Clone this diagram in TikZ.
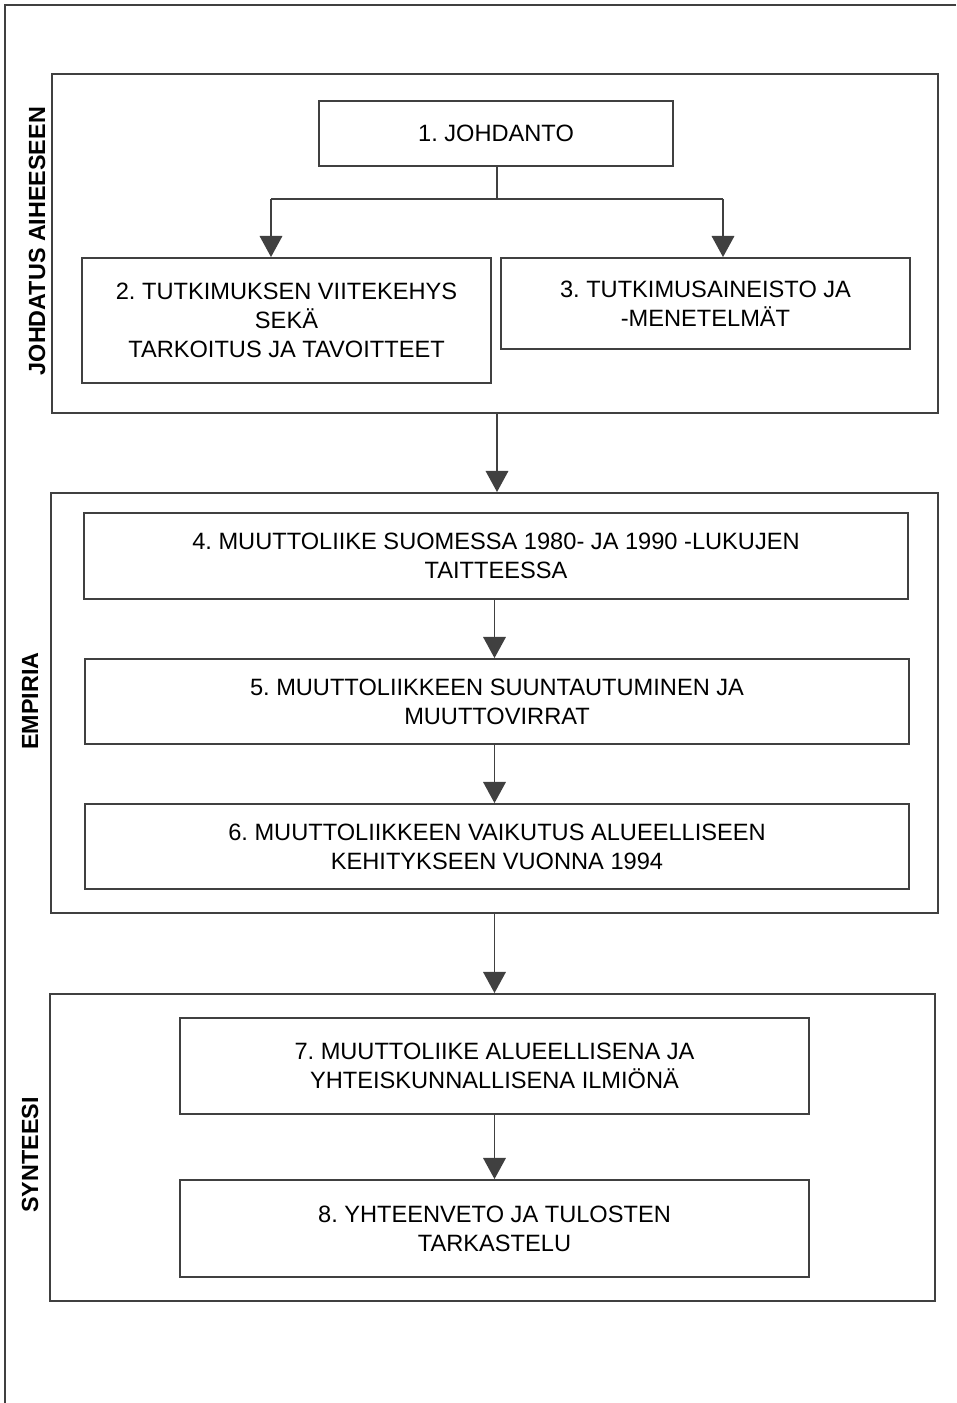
\documentclass[tikz,border=0pt]{standalone}
\usepackage{fontspec}
\setmainfont{Liberation Sans}
\usetikzlibrary{arrows.meta}
\definecolor{linegray}{gray}{0.25}
\frenchspacing
\tikzset{
  box/.style={draw=linegray, line width=1.3pt, align=center, inner sep=0pt,
    font=\fontsize{16.8}{20.5}\selectfont},
  section/.style={draw=linegray, line width=1.3pt, inner sep=0pt},
  side/.style={rotate=90, font=\fontsize{16.6}{20}\selectfont\bfseries},
  arr/.style={draw=linegray, line width=1.3pt, -{Triangle[width=16pt,length=15pt]}}
}
\begin{document}
\begin{tikzpicture}[x=0.025cm,y=-0.025cm]
    \useasboundingbox (0,0) rectangle (956,1403);
    \draw[linegray, line width=1pt] (956,5) -- (5,5) -- (5,1403);
    % sections
    \node[section, minimum width=22.15cm, minimum height=8.475cm] (sec1) at (495,243.5) {};
    \node[section, minimum width=22.175cm, minimum height=10.5cm] (sec2) at (494.5,703) {};
    \node[section, minimum width=22.125cm, minimum height=7.675cm] (sec3) at (492.5,1147.5) {};
    \node[side] (lab1) at (37,241) {JOHDATUS AIHEESEEN};
    \node[side] (lab2) at (30,701) {EMPIRIA};
    \node[side] (lab3) at (30,1155) {SYNTEESI};
    % chapters
    \node[box, minimum width=8.85cm, minimum height=1.625cm] (b1) at (496,133.5) {1. JOHDANTO};
    \node[box, minimum width=10.225cm, minimum height=3.125cm] (b2) at (286.5,320.5)
        {2. TUTKIMUKSEN VIITEKEHYS\\SEKÄ\\TARKOITUS JA TAVOITTEET};
    \node[box, minimum width=10.225cm, minimum height=2.275cm] (b3) at (705.5,303.5)
        {3. TUTKIMUSAINEISTO JA\\-MENETELMÄT};
    \node[box, minimum width=20.6cm, minimum height=2.15cm] (b4) at (496,556)
        {4. MUUTTOLIIKE SUOMESSA 1980- JA 1990 -LUKUJEN\\TAITTEESSA};
    \node[box, minimum width=20.6cm, minimum height=2.125cm] (b5) at (497,701.5)
        {5. MUUTTOLIIKKEEN SUUNTAUTUMINEN JA\\MUUTTOVIRRAT};
    \node[box, minimum width=20.6cm, minimum height=2.125cm] (b6) at (497,846.5)
        {6. MUUTTOLIIKKEEN VAIKUTUS ALUEELLISEEN\\KEHITYKSEEN VUONNA 1994};
    \node[box, minimum width=15.725cm, minimum height=2.4cm] (b7) at (494.5,1066)
        {7. MUUTTOLIIKE ALUEELLISENA JA\\YHTEISKUNNALLISENA ILMIÖNÄ};
    \node[box, minimum width=15.725cm, minimum height=2.425cm] (b8) at (494.5,1228.5)
        {8. YHTEENVETO JA TULOSTEN\\TARKASTELU};
    % connectors
    \coordinate (split) at (497,199);
    \coordinate (left) at (271,199);
    \coordinate (right) at (723,199);
    \draw[linegray, line width=1.3pt] (b1.south -| split) -- (split);
    \draw[linegray, line width=1.3pt] (left) -- (right);
    \draw[arr] (left) -- (left |- b2.north);
    \draw[arr] (right) -- (right |- b3.north);
    \draw[arr] (sec1.south -| split) -- (sec2.north -| split);
    \draw[arr] (b4.south -| sec2) -- (b5.north -| sec2);
    \draw[arr] (b5.south -| sec2) -- (b6.north -| sec2);
    \draw[arr] (sec2.south) -- (sec3.north -| sec2);
    \draw[arr] (b7) -- (b8);
\end{tikzpicture}
\end{document}
